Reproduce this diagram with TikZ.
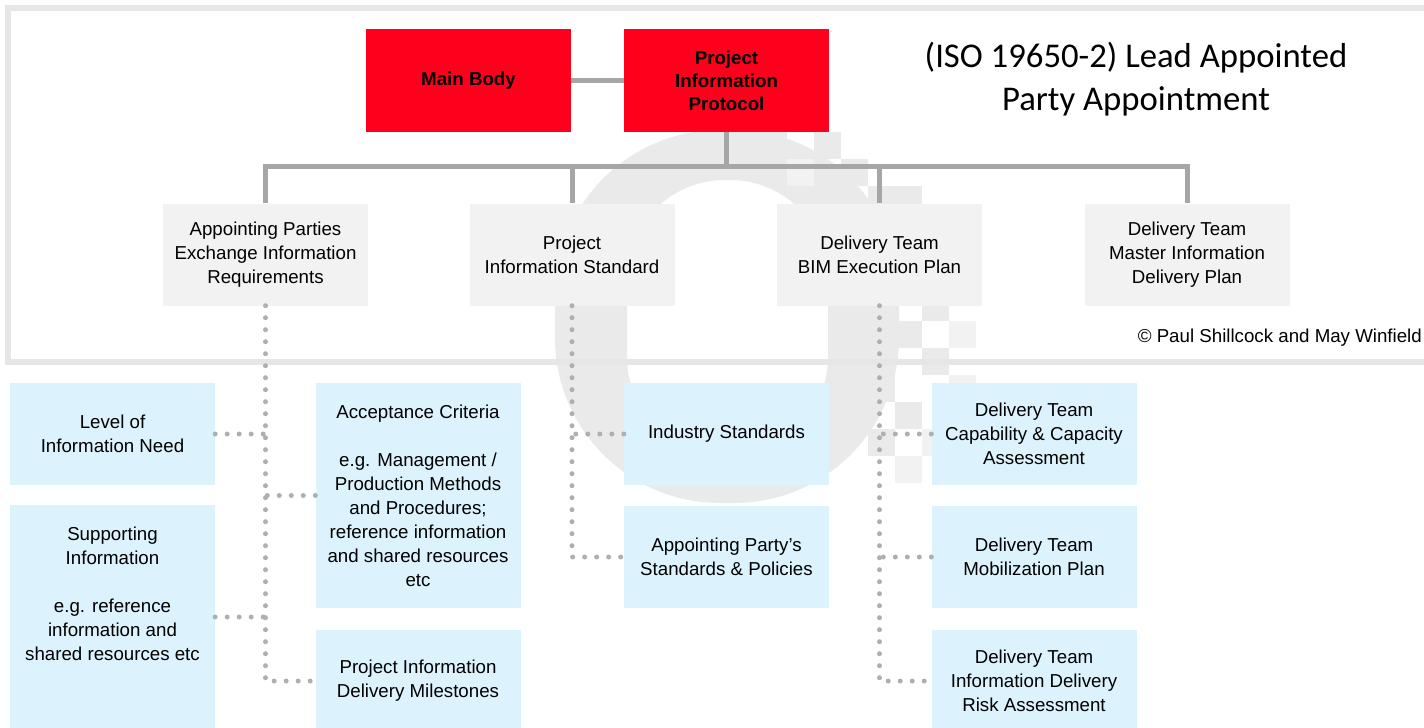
\documentclass[tikz,border=0pt]{standalone}
\usepackage{fontspec}
\setmainfont{Liberation Sans}
\newfontfamily\titlefont{Carlito}
\definecolor{redbox}{RGB}{255,0,28}
\definecolor{greybox}{RGB}{242,242,242}
\definecolor{bluebox}{RGB}{220,243,253}
\definecolor{linegrey}{RGB}{166,166,166}
\definecolor{dotgrey}{RGB}{175,175,175}
\definecolor{framegrey}{RGB}{230,230,230}
\definecolor{wmgrey}{RGB}{234,234,234}
\definecolor{wmlight}{RGB}{242,242,242}
\tikzset{
  base/.style={rectangle, inner sep=0pt, align=center, minimum width=205bp, font=\fontsize{18.7bp}{24bp}\selectfont},
  redb/.style={base, fill=redbox, minimum height=102bp, font=\bfseries\fontsize{18.7bp}{23bp}\selectfont},
  greyb/.style={base, fill=greybox, minimum height=102bp},
  blueb/.style={base, fill=bluebox, minimum height=102bp},
  bus/.style={draw=linegrey, line width=5bp, line join=miter},
  dotline/.style={draw=dotgrey, line width=5bp, line cap=round, dash pattern=on 0bp off 12bp},
  wmsq/.style={fill=wmgrey, draw=none},
  wmsql/.style={fill=wmlight, draw=none},
}
\begin{document}
\begin{tikzpicture}[x=1bp,y=-1bp]
\useasboundingbox (0,0) rectangle (1424,727);
% faint watermark
\fill[wmgrey, even odd rule] [rounded corners=165bp] (555,130) rectangle (899,503)
  [rounded corners=98bp] (627,180) rectangle (828,455);
\foreach \sx/\sy in {760/132,814/132,841/159,868/186,895/186,868/240,895/267,868/294,922/294,895/321,922/348,868/375,895/402,868/429}
  \path[wmsq] (\sx,\sy) rectangle ++(27,27);
\foreach \sx/\sy in {787/159,841/213,922/240,949/321,949/375,922/429,895/456}
  \path[wmsql] (\sx,\sy) rectangle ++(27,27);
% frame
\draw[framegrey, line width=6bp] (8,8) rectangle (1460,362);
% top level
\node[redb] (mb) at (468.5,80.5) {Main Body};
\node[redb] (pip) at (726.5,80.5) {Project\\Information\\Protocol};
\node[font=\titlefont\fontsize{34.7bp}{43bp}\selectfont, align=center, inner sep=0pt] (title) at (1136,79.5) {(ISO 19650-2) Lead Appointed\\Party Appointment};
% second level
\node[greyb] (A) at (265.5,254.5) {Appointing Parties\\Exchange Information\\Requirements};
\node[greyb] (B) at (572,254.5) {Project\\Information Standard};
\node[greyb] (C) at (879.5,254.5) {Delivery Team\\BIM Execution Plan};
\node[greyb] (D) at (1187,254.5) {Delivery Team\\Master Information\\Delivery Plan};
\node[anchor=east, inner sep=0pt, font=\fontsize{18.7bp}{24bp}\selectfont] (copy) at (1422,338) {© Paul Shillcock and May Winfield};
% third level
\node[blueb] (lin) at (112.5,434) {Level of\\Information Need};
\node[blueb, minimum height=225bp] (sup) at (112.5,617.5) {};
\node[base] (suptxt) at (112.5,593.5) {Supporting\\Information\\[24bp]e.g. reference\\information and\\shared resources etc};
\node[blueb, minimum height=225bp] (acc) at (418,495.5) {Acceptance Criteria\\[24bp]e.g. Management /\\Production Methods\\and Procedures;\\reference information\\and shared resources\\etc};
\node[blueb] (pim) at (418,681) {Project Information\\Delivery Milestones};
\node[blueb] (ind) at (726.5,434) {Industry Standards};
\node[blueb] (aps) at (726.5,557) {Appointing Party’s\\Standards \& Policies};
\node[blueb] (cap) at (1034,434) {Delivery Team\\Capability \& Capacity\\Assessment};
\node[blueb] (mob) at (1034,557) {Delivery Team\\Mobilization Plan};
\node[blueb] (risk) at (1034,681) {Delivery Team\\Information Delivery\\Risk Assessment};
% solid connectors
\coordinate (busy) at (0,166);
\draw[bus] (mb.east) -- (pip.west);
\draw[bus] (pip.south) -- (pip.south |- busy);
\draw[bus] (A.north) -- (A.north |- busy) -- (D.north |- busy) -- (D.north);
\draw[bus] (B.north) -- (B.north |- busy);
\draw[bus] (C.north) -- (C.north |- busy);
% dotted connectors
\draw[dotline] (A.south) -- (A.south |- pim.west) -- (pim.west);
\draw[dotline] (lin.east) -- (lin.east -| A.south);
\draw[dotline] (acc.west) -- (acc.west -| A.south);
\draw[dotline] (sup.east |- 0,617) -- (A.south |- 0,617);
\draw[dotline] (B.south) -- (B.south |- aps.west) -- (aps.west);
\draw[dotline] (ind.west) -- (ind.west -| B.south);
\draw[dotline] (C.south) -- (C.south |- risk.west) -- (risk.west);
\draw[dotline] (cap.west) -- (cap.west -| C.south);
\draw[dotline] (mob.west) -- (mob.west -| C.south);
\end{tikzpicture}
\end{document}
